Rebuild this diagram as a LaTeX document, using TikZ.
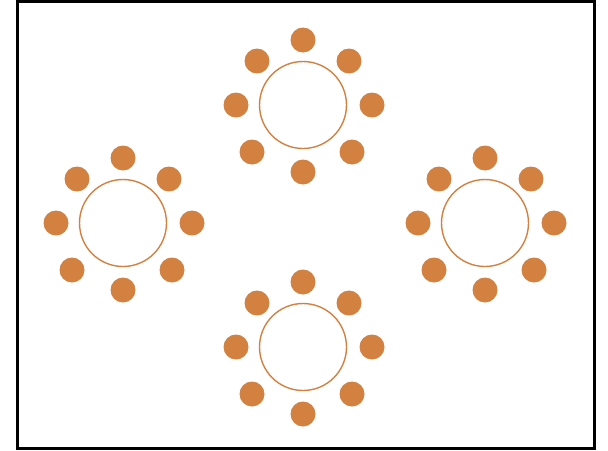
\documentclass[tikz,border=0pt]{standalone}
\usepackage{xcolor}
\usepackage{tikz}
\usetikzlibrary{positioning,calc}
\definecolor{clay}{HTML}{D28141}

\begin{document}
\begin{tikzpicture}[x=1pt,y=-1pt,table/.style={circle,draw=clay,line width=1.4pt,minimum size=87pt,inner sep=0pt},seat/.style={circle,fill=clay,minimum size=25pt,inner sep=0pt}]
\useasboundingbox (0,0) rectangle (608,450);
\draw[line width=3pt] (17.5,1.5) rectangle (594.5,448.5);
\node[table] (tn) at (303,105) {}; \node[table] (tw) at (123,223) {};
\node[table] (te) at (485,223) {}; \node[table] (ts) at (303,347) {};
\foreach \t in {tn,tw,te,ts}{
  \foreach \s/\dx/\dy in {a/0/-65,b/46/-44,c/69/0,d/49/47,e/0/67,f/-51/47,g/-67/0,h/-46/-44}
    \node[seat] (\t\s) at ($(\t)+(\dx,\dy)$) {};
}
\end{tikzpicture}
\end{document}
